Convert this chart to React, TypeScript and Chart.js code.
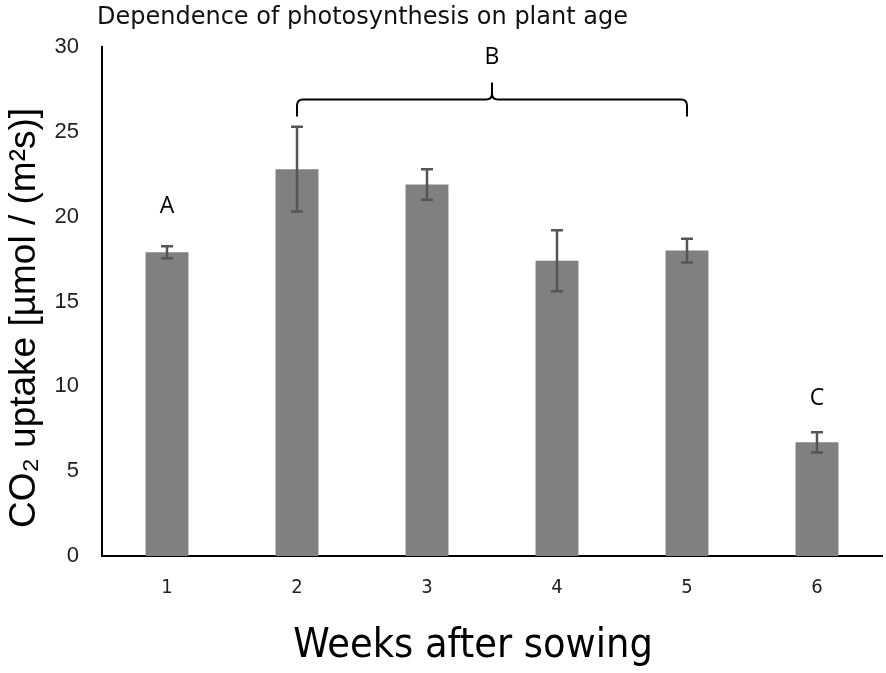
import { useEffect, useRef } from "react";
import { Chart, registerables } from "chart.js";
Chart.register(...registerables);

const weeks = ["1", "2", "3", "4", "5", "6"];
const uptake = [17.9, 22.8, 21.9, 17.4, 18.0, 6.7];
const uptakeErr = [0.35, 2.5, 0.9, 1.8, 0.7, 0.6];
const yTicks = [0, 5, 10, 15, 20, 25, 30];

// significance letters: [label, category index, y value]
const letters: [string, number, number][] = [
  ["A", 0, 20.6],
  ["C", 5, 9.3],
];
const groupB = { label: "B", from: 1, to: 4, y: 26.9 };

const titleText = "Dependence of photosynthesis on plant age";
const xTitle = "Weeks after sowing";
const yTitle = "CO\u2082 uptake [\u00b5mol / (m\u00b2s)]";

const annotate = {
  id: "annotate",
  afterDatasetsDraw(chart: Chart) {
    const ctx = chart.ctx;
    const x = chart.scales.x;
    const y = chart.scales.y;
    ctx.save();

    // error bars
    ctx.strokeStyle = "#555555";
    ctx.lineWidth = 2.5;
    uptake.forEach((v, i) => {
      const px = x.getPixelForValue(i);
      const top = y.getPixelForValue(v + uptakeErr[i]);
      const bot = y.getPixelForValue(v - uptakeErr[i]);
      ctx.beginPath();
      ctx.moveTo(px, top);
      ctx.lineTo(px, bot);
      ctx.moveTo(px - 6, top);
      ctx.lineTo(px + 6, top);
      ctx.moveTo(px - 6, bot);
      ctx.lineTo(px + 6, bot);
      ctx.stroke();
    });

    // letters
    ctx.fillStyle = "#000";
    ctx.font = "23px 'Open Sans', 'Liberation Sans', sans-serif";
    ctx.textAlign = "center";
    ctx.textBaseline = "middle";
    letters.forEach(([t, i, v]) => {
      ctx.fillText(t, x.getPixelForValue(i), y.getPixelForValue(v));
    });

    // brace over group B
    const x1 = x.getPixelForValue(groupB.from);
    const x2 = x.getPixelForValue(groupB.to);
    const by = y.getPixelForValue(groupB.y);
    const mid = (x1 + x2) / 2;
    const r = 6;
    ctx.strokeStyle = "#000";
    ctx.lineWidth = 2;
    ctx.beginPath();
    ctx.moveTo(x1, by + 17);
    ctx.lineTo(x1, by + r);
    ctx.quadraticCurveTo(x1, by, x1 + r, by);
    ctx.lineTo(mid - r, by);
    ctx.quadraticCurveTo(mid, by, mid, by - r);
    ctx.lineTo(mid, by - 17);
    ctx.moveTo(mid, by - r);
    ctx.quadraticCurveTo(mid, by, mid + r, by);
    ctx.lineTo(x2 - r, by);
    ctx.quadraticCurveTo(x2, by, x2, by + r);
    ctx.lineTo(x2, by + 17);
    ctx.stroke();
    ctx.fillText(groupB.label, mid, by - 42);

    // chart title
    ctx.fillStyle = "#111";
    ctx.font = "24px 'DejaVu Sans', sans-serif";
    ctx.textAlign = "left";
    ctx.fillText(titleText, 97, 18);

    // axis titles
    ctx.fillStyle = "#000";
    ctx.textAlign = "center";
    ctx.font = "41px 'DejaVu Sans Condensed', 'DejaVu Sans', sans-serif";
    ctx.fillText(xTitle, 473, 646);

    ctx.translate(25, 318);
    ctx.rotate(-Math.PI / 2);
    ctx.font = "37px 'Liberation Sans', Arial, sans-serif";
    ctx.fillText(yTitle, 0, 0);
    ctx.restore();
  },
};

export default function App() {
  const canvasRef = useRef<HTMLCanvasElement>(null);
  const chartRef = useRef<Chart | null>(null);

  useEffect(() => {
    document.body.style.margin = "0";
    if (!canvasRef.current) return;
    if (chartRef.current) chartRef.current.destroy();

    chartRef.current = new Chart(canvasRef.current, {
      type: "bar",
      data: {
        labels: weeks,
        datasets: [{
          label: "CO2 uptake",
          data: uptake,
          backgroundColor: "#808080",
          barPercentage: 0.33,
          categoryPercentage: 1,
        }],
      },
      options: {
        responsive: false,
        animation: false,
        layout: { padding: { top: 47, right: 4, left: 0, bottom: 0 } },
        plugins: { legend: { display: false }, tooltip: { enabled: false } },
        scales: {
          x: {
            grid: { display: false, drawTicks: false },
            border: { display: true, color: "#000", width: 2 },
            ticks: { color: "#222", padding: 20, font: { family: "'DejaVu Sans Condensed', 'DejaVu Sans'", size: 20 } },
            afterFit: (s: any) => { s.height = 117; },
          },
          y: {
            min: 0,
            max: 30,
            afterBuildTicks: (s: any) => { s.ticks = yTicks.map((v) => ({ value: v })); },
            grid: { display: false, drawTicks: false },
            border: { display: true, color: "#000", width: 2 },
            ticks: { color: "#222", padding: 23, font: { family: "'Liberation Sans', Arial", size: 22 } },
            afterFit: (s: any) => { s.width = 102; },
          },
        },
      },
      plugins: [annotate],
    });

    return () => { chartRef.current?.destroy(); };
  }, []);

  return (
    <div style={{ width: 886, height: 673 }}>
      <canvas ref={canvasRef} width={886} height={673}></canvas>
    </div>
  );
}
